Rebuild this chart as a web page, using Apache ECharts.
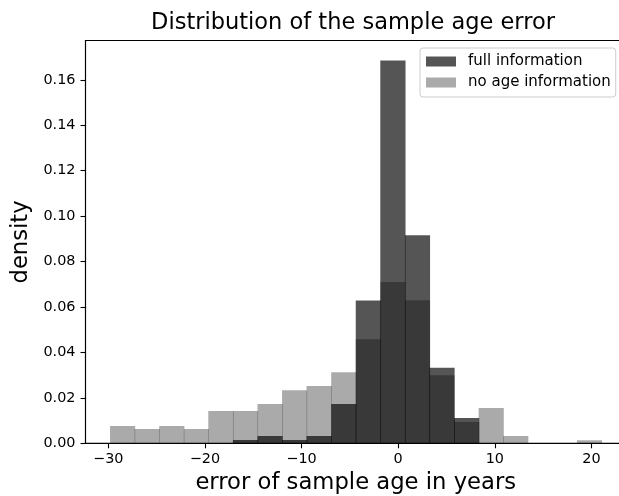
<!DOCTYPE html>
<html>
<head>
<meta charset="utf-8">
<script src="https://cdn.jsdelivr.net/npm/echarts@6/dist/echarts.min.js"></script>
<style>
  html, body { margin: 0; padding: 0; background: #fff; overflow: hidden; }
  /* plot area runs past the right edge of the picture, as in the reference */
  #chart { width: 632px; height: 496px; }
</style>
</head>
<body>
<div id="chart"></div>
<script>
// histogram bin edges (shared by both series)
var binEdges = [-29.82, -27.28, -24.73, -22.19, -19.65, -17.10, -14.56, -12.02, -9.48, -6.93,
  -4.39, -1.85, 0.70, 3.24, 5.78, 8.33, 10.87, 13.41, 15.96, 18.50, 21.04];

// density per bin
var fullInfo = [0, 0, 0, 0, 0, 0.0015, 0.0032, 0.0015, 0.0032, 0.0173,
  0.0629, 0.1685, 0.0916, 0.0332, 0.0111, 0, 0, 0, 0, 0];
var noAgeInfo = [0.0076, 0.0063, 0.0076, 0.0063, 0.0142, 0.0142, 0.0173, 0.0234, 0.0252, 0.0313,
  0.0458, 0.0710, 0.0630, 0.0300, 0.0094, 0.0155, 0.0032, 0, 0, 0.0013];

var xTicks = [-30, -20, -10, 0, 10, 20];
var yTicks = [0, 0.02, 0.04, 0.06, 0.08, 0.10, 0.12, 0.14, 0.16];

var FONT = "DejaVu Sans";

function toBins(values) {
  var out = [];
  for (var i = 0; i < values.length; i++) {
    if (values[i] > 0) out.push([binEdges[i], binEdges[i + 1], values[i]]);
  }
  return out;
}

function renderBar(params, api) {
  var p0 = api.coord([api.value(0), 0]);
  var p1 = api.coord([api.value(1), api.value(2)]);
  return {
    type: "rect",
    shape: { x: p0[0], y: p1[1], width: p1[0] - p0[0] + 0.6, height: p0[1] - p1[1] },
    style: { fill: api.visual("color") }
  };
}

var chart = echarts.init(document.getElementById("chart"));
chart.setOption({
  animation: false,
  title: {
    text: "Distribution of the sample age error",
    left: 353,
    top: 12,
    padding: 0,
    textAlign: "center",
    textStyle: { fontFamily: FONT, fontSize: 22.5, fontWeight: "normal", color: "#000" }
  },
  legend: {
    orient: "vertical",
    left: 420,
    top: 48,
    padding: [6, 5, 7, 6],
    itemWidth: 30,
    itemHeight: 10,
    itemGap: 6,
    icon: "rect",
    backgroundColor: "rgba(255,255,255,0.8)",
    borderColor: "#cccccc",
    borderWidth: 1,
    borderRadius: 3,
    textStyle: { fontFamily: FONT, fontSize: 15, color: "#000", padding: [0, 0, 0, 7] },
    data: ["full information", "no age information"]
  },
  grid: {
    left: 85.5,
    right: 6,
    top: 40.5,
    bottom: 52.7,
    outerBoundsMode: "none",
    show: true,
    borderColor: "#000",
    borderWidth: 1.1,
    backgroundColor: "transparent"
  },
  xAxis: {
    type: "value",
    min: -32.36,
    max: 23.58,
    name: "error of sample age in years",
    nameLocation: "middle",
    nameGap: 26.5,
    nameTextStyle: { fontFamily: FONT, fontSize: 22.7, color: "#000" },
    axisLine: { show: true, onZero: false, lineStyle: { color: "#000", width: 1.1 } },
    axisTick: { show: true, length: 5, customValues: xTicks, lineStyle: { color: "#000", width: 1.1 } },
    axisLabel: {
      customValues: xTicks,
      margin: 9,
      fontFamily: FONT, fontSize: 14.4, color: "#000",
      formatter: function (v) { return v < 0 ? "\u2212" + Math.abs(v) : String(v); }
    },
    splitLine: { show: false }
  },
  yAxis: {
    type: "value",
    min: 0,
    max: 0.1773,
    name: "density",
    nameLocation: "middle",
    nameGap: 51,
    nameTextStyle: { fontFamily: FONT, fontSize: 22.7, color: "#000" },
    axisLine: { show: true, onZero: false, lineStyle: { color: "#000", width: 1.1 } },
    axisTick: { show: true, length: 5, customValues: yTicks, lineStyle: { color: "#000", width: 1.1 } },
    axisLabel: {
      customValues: yTicks,
      margin: 10,
      fontFamily: FONT, fontSize: 14.4, color: "#000",
      formatter: function (v) { return v.toFixed(2); }
    },
    splitLine: { show: false }
  },
  series: [
    {
      name: "full information",
      type: "custom",
      renderItem: renderBar,
      itemStyle: { color: "rgba(0,0,0,0.667)" },
      encode: { x: [0, 1], y: 2 },
      data: toBins(fullInfo),
      clip: true,
      silent: true
    },
    {
      name: "no age information",
      type: "custom",
      renderItem: renderBar,
      itemStyle: { color: "rgba(0,0,0,0.333)" },
      encode: { x: [0, 1], y: 2 },
      data: toBins(noAgeInfo),
      clip: true,
      silent: true
    }
  ]
});
</script>
</body>
</html>
